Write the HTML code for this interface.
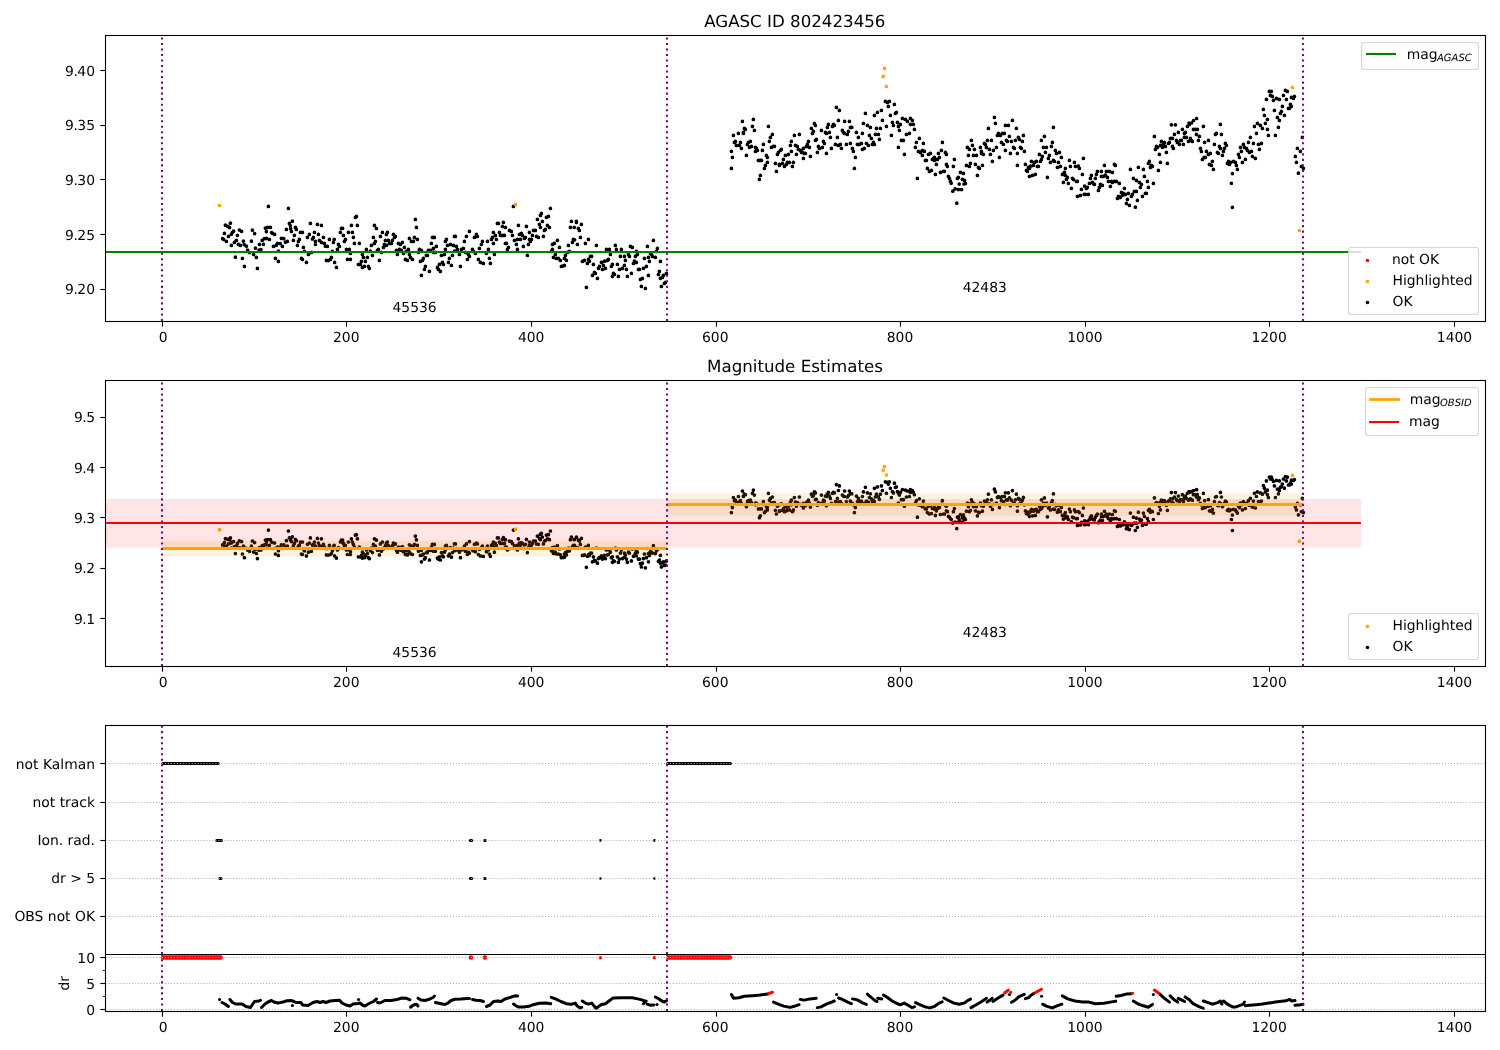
<!DOCTYPE html>
<html lang="en"><head><meta charset="utf-8"><title>AGASC ID 802423456</title>
<style>html,body{margin:0;padding:0;background:#fff}svg{display:block;will-change:transform}text{font-family:'DejaVu Sans','Liberation Sans',sans-serif;fill:#000;text-rendering:geometricPrecision}</style></head><body>
<svg width="1500" height="1050" viewBox="0 0 1500 1050">
<rect width="1500" height="1050" fill="#fff"/>
<defs>
<clipPath id="c1"><rect x="105.5" y="35.5" width="1380.0" height="286.0"/></clipPath>
<clipPath id="c2"><rect x="105.5" y="380.5" width="1380.0" height="286.0"/></clipPath>
<clipPath id="c3"><rect x="105.5" y="725.5" width="1380.0" height="286.0"/></clipPath>
<clipPath id="c3a"><rect x="105.5" y="725.5" width="1380.0" height="229.0"/></clipPath>
<clipPath id="c3b"><rect x="105.5" y="954.5" width="1380.0" height="57.0"/></clipPath>
</defs>
<g clip-path="url(#c1)">
<path d="M225.4 225.2h0M227.8 226.4h0M229.6 227.6h0M230.4 223.2h0M224.4 233.4h0M222.6 238.6h0M223.6 239.4h0M226.4 241.4h0M228.4 236.4h0M231.4 234.2h0M232.4 232.4h0M233.6 231.2h0M231.4 245.4h0M234.4 242.4h0M236.4 240.4h0M237.4 235.4h0M239.4 230h0M241.6 231.4h0M235.4 257.2h0M238.4 244.4h0M240.4 245.4h0M243.4 241.2h0M244.2 244.6h0M246.4 246.2h0M242.4 258.4h0M244.4 266.4h0M247.6 250h0M249.6 252.6h0M251.4 241.2h0M252.4 230.2h0M254.6 233.6h0M253.6 254.4h0M255.4 248.2h0M256.4 257.4h0M257.4 268.4h0M259 250.2h0M261 249.6h0M259.4 244.4h0M262.2 240.4h0M263.4 244.4h0M264.4 238.6h0M266.6 238.4h0M269.4 239.4h0M265.4 228.2h0M267.6 227.4h0M270.4 227.4h0M266.4 231.6h0M268.4 206.4h0M271.6 232.6h0M272.6 233.4h0M274.6 234.4h0M273.4 246.4h0M276.2 245.4h0M277.4 243.4h0M280.2 243.6h0M282.4 246.4h0M278.4 251.2h0M275.4 258.4h0M278.4 261.4h0M281.4 238.4h0M283.8 238.6h0M285.4 242.2h0M287.4 241.4h0M286.4 229.4h0M288.4 208.4h0M289.4 223.4h0M292.4 221.2h0M290.4 225.8h0M290.6 228.6h0M291.4 231.4h0M294.4 235.4h0M293.4 240.4h0M295.4 227.4h0M296.4 229.4h0M299.4 239.4h0M298.4 241.4h0M297.4 245.4h0M300.4 232.4h0M302.4 232.4h0M303.4 247.4h0M301.4 258.4h0M302.4 259.4h0M304.4 251.4h0M306.4 262.4h0M307.4 237.4h0M309.4 234.4h0M310.4 223.4h0M308.4 254.4h0M311.4 252.4h0M312.4 239h0M313.4 237.4h0M314.4 232.4h0M315.4 244.4h0M315.4 241.4h0M317.4 224.4h0M318.4 234.4h0M319.4 240.4h0M321.4 225.4h0M321.4 242.4h0M323.4 237.4h0M324.4 243.4h0M325.4 246.2h0M327.4 246.4h0M326.4 260.4h0M328.4 260.6h0M330.4 259.4h0M331.4 257.4h0M329.4 239.4h0M332.4 251.4h0M333.4 242.4h0M334.2 239.4h0M334.6 262.4h0M336.4 267.4h0M337.4 249.4h0M338.4 244.4h0M339.4 246.4h0M340.4 232.4h0M341.4 228.4h0M342.6 228.4h0M343.4 235.4h0M344.4 241.4h0M345.4 239.4h0M346.4 249.4h0M347.4 259.4h0M348.4 232.4h0M349.4 249.4h0M350.4 253.4h0M350.4 259.4h0M351.4 225.4h0M352.4 232.4h0M353.4 237.4h0M354.4 243.4h0M355.4 217.4h0M356.4 216.4h0M357.4 225.4h0M358.4 264.4h0M359.4 243.4h0M360.4 264.4h0M361.4 261.4h0M362.4 267.4h0M362.4 254.4h0M363.4 257.4h0M364.4 266.4h0M365.4 261.4h0M366.4 249.4h0M367.4 257.4h0M368.4 266.4h0M369.4 268.4h0M370.4 251.2h0M371.4 245.4h0M372.4 255.4h0M373.4 237.4h0M374.4 225.4h0M374.4 243.4h0M375.4 241.4h0M376.4 228.4h0M377.4 250.4h0M378.4 249.4h0M379.4 260.4h0M380.4 236.4h0M381.4 252.4h0M382.4 232.4h0M383.4 247.4h0M384.4 244.4h0M385.4 240.4h0M386.4 234.4h0M387.4 232.4h0M386.4 245.4h0M388.4 240.4h0M389.4 243.4h0M391.4 243.4h0M392.4 240.4h0M393.4 234.4h0M394.4 237.4h0M395.4 236.4h0M396.4 250.4h0M397.4 254.4h0M398.4 243.4h0M399.4 249.4h0M400.4 244.4h0M401.4 250.4h0M402.4 242.4h0M403.4 253.4h0M404.4 247.4h0M405.4 259.4h0M407.4 260.4h0M406.4 251.4h0M408.4 249.4h0M409.4 238.4h0M409.4 254.4h0M410.4 257.4h0M411.4 241.4h0M412.4 259.4h0M413.4 241.4h0M414.4 237.4h0M415.4 219.4h0M416.4 227.4h0M417.4 239.4h0M418.4 252.4h0M419.4 249.4h0M420.4 261.4h0M421.4 250.4h0M421.4 275.4h0M422.4 260.4h0M423.4 258.4h0M424.4 269.4h0M425.4 266.4h0M426.4 255.4h0M427.4 255.4h0M428.4 250.4h0M429.4 271.4h0M430.4 250.4h0M431.4 243.4h0M432.4 237.4h0M433.4 248.4h0M434.4 237.4h0M433.4 252.4h0M435.4 252.4h0M436.4 246.4h0M437.4 267.4h0M438.4 269.4h0M439.4 264.4h0M440.4 271.4h0M441.4 255.4h0M442.4 262.4h0M443.4 264.4h0M444.4 254.4h0M445.4 241.4h0M445.4 249.4h0M446.4 239.4h0M447.4 245.4h0M448.4 262.4h0M449.4 258.4h0M450.4 244.4h0M451.4 265.4h0M452.4 255.4h0M453.4 245.4h0M454.4 236.4h0M454.6 251.2h0M513.4 206.4h0M455.4 236.4h0M456.4 246.4h0M457.4 249.4h0M459.4 254.4h0M460.4 266.4h0M461.4 249.4h0M463.4 248.4h0M464.4 241.4h0M465.4 252.4h0M466.4 236.4h0M467.4 259.4h0M468.4 254.4h0M469.4 231.4h0M469.4 256.4h0M472.4 249.4h0M473.4 251.4h0M474.4 237.4h0M475.4 253.4h0M476.4 234.4h0M477.4 236.4h0M478.4 259.4h0M479.4 248.4h0M480.4 262.4h0M481.4 244.4h0M482.4 241.4h0M483.4 263.4h0M486.4 253.4h0M487.4 241.4h0M488.4 249.4h0M489.4 258.4h0M490.4 263.4h0M491.4 239.4h0M492.4 237.4h0M493.4 232.4h0M493.4 243.4h0M494.4 254.4h0M495.4 235.4h0M496.4 239.4h0M497.4 223.4h0M498.4 223.4h0M499.4 232.4h0M500.4 235.4h0M502.4 226.4h0M503.4 222.4h0M502.4 235.4h0M504.4 235.4h0M505.4 227.4h0M505.4 243.4h0M506.4 243.4h0M507.4 249.4h0M508.4 247.4h0M509.4 230.4h0M511.4 231.4h0M512.4 235.4h0M514.4 240.4h0M516.4 244.4h0M517.4 239.4h0M517.4 249.4h0M518.4 225.4h0M519.4 234.4h0M520.4 239.4h0M521.4 233.4h0M522.4 235.4h0M523.4 246.4h0M524.4 238.4h0M525.4 237.4h0M526.4 226.4h0M527.4 255.4h0M528.4 244.4h0M529.4 232.4h0M529.4 239.4h0M530.4 241.4h0M531.4 239.4h0M532.4 235.4h0M533.4 230.4h0M535.4 230.4h0M536.4 236.4h0M537.4 219.4h0M538.4 237.4h0M539.4 224.4h0M540.4 227.4h0M540.4 215.4h0M541.4 213.4h0M542.4 221.4h0M543.4 236.4h0M544.4 230.4h0M545.4 229.4h0M546.4 217.4h0M547.4 225.4h0M548.4 216.4h0M549.4 227.4h0M550.4 208.4h0M551.4 251.4h0M552.4 249.4h0M552.4 244.4h0M553.4 257.4h0M554.4 243.4h0M555.4 254.4h0M556.4 258.4h0M557.4 240.4h0M558.4 258.4h0M559.4 247.4h0M560.4 260.4h0M561.4 266.4h0M563.4 265.8h0M564.4 265.4h0M564.4 258.4h0M565.4 255.4h0M566.4 260.4h0M567.4 252.4h0M568.4 245.4h0M569.4 251.4h0M570.4 227.4h0M571.4 221.4h0M572.4 242.4h0M573.4 239.4h0M574.2 227.4h0M574.6 239.8h0M576.4 221.4h0M576.4 222.4h0M578.4 228.4h0M579.4 230.4h0M581.4 224.4h0M577.4 244.4h0M580.4 237.4h0M582.4 261.4h0M584.4 260.4h0M585.4 243.4h0M586.4 287.4h0M587.4 263.4h0M588.4 239.4h0M588.4 259.4h0M589.4 261.2h0M590.4 256.4h0M591.6 256.4h0M592.4 275.4h0M593.4 264.4h0M594.4 272.4h0M595.4 273.4h0M596.4 245.4h0M597.4 278.4h0M598.4 268.4h0M599.4 266.4h0M601.4 262.4h0M602.4 269.4h0M603.4 265.4h0M604.4 261.2h0M605.4 268.4h0M606.4 249.4h0M607.4 260.4h0M608.4 259.4h0M609.4 249.4h0M610.4 254.4h0M611.4 266.4h0M612.4 264.4h0M612.4 276.4h0M613.4 273.4h0M614.4 274.4h0M615.4 245.4h0M616.4 249.4h0M617.4 264.4h0M618.4 276.4h0M619.4 269.4h0M620.4 256.4h0M621.4 249.4h0M622.4 268.4h0M624.4 256.4h0M624.4 265.4h0M625.4 260.4h0M626.4 269.4h0M627.4 276.4h0M628.4 254.4h0M629.4 256.4h0M630.4 246.4h0M631.4 273.4h0M632.4 247.4h0M633.4 263.4h0M634.4 261.2h0M635.4 256.4h0M636.4 262.4h0M636.4 251.4h0M637.4 254.4h0M638.4 269.4h0M639.4 269.4h0M640.4 279.4h0M641.4 286.4h0M642.4 278.4h0M643.4 268.4h0M644.4 258.4h0M645.4 288.4h0M646.4 266.4h0M647.4 246.4h0M648.4 257.4h0M648.4 275.4h0M649.4 261.4h0M650.4 253.4h0M651.4 254.4h0M652.4 256.4h0M653.4 240.4h0M655.4 257.4h0M656.4 251.4h0M657.4 248.4h0M658.4 274.4h0M659.4 271.4h0M660.4 261.4h0M660.4 278.4h0M661.4 286.4h0M662.4 277.4h0M663.4 275.4h0M664.4 283.4h0M665.4 282.4h0M666.4 273.4h0M731.4 151.4h0M732.4 157.4h0M731.4 168.4h0M733.4 135.4h0M734.4 142.4h0M735.4 141.4h0M736.4 145.4h0M738.4 133.4h0M739.4 145.4h0M740.4 142.4h0M741.4 148.4h0M742.4 121.4h0M743.4 132.4h0M743.4 133.4h0M744.4 128.4h0M745.4 129.4h0M746.4 155.4h0M747.4 144.4h0M748.4 142.4h0M749.4 147.4h0M750.4 141.4h0M751.4 146.4h0M752.4 126.4h0M753.4 119.4h0M754.4 130.4h0M755.4 147.4h0M755.4 151.4h0M756.4 148.4h0M757.4 150.4h0M758.4 160.4h0M760.4 160.4h0M761.4 160.4h0M759.4 179.4h0M760.4 175.4h0M762.4 150.4h0M763.4 144.4h0M764.4 168.4h0M765.4 165.4h0M766.4 155.4h0M767.4 157.4h0M767.4 162.4h0M768.4 126.4h0M769.4 141.4h0M770.4 137.4h0M771.4 147.4h0M772.4 134.4h0M773.4 146.4h0M774.4 146.4h0M775.4 163.4h0M776.4 171.4h0M777.4 154.4h0M778.4 152.4h0M779.4 164.4h0M779.4 165.4h0M780.4 150.4h0M781.4 149.4h0M782.4 163.4h0M783.4 159.4h0M784.4 166.4h0M785.4 155.4h0M786.4 164.4h0M787.4 162.4h0M788.4 154.4h0M789.4 162.4h0M790.4 145.4h0M791.4 141.4h0M791.4 151.4h0M792.4 166.4h0M793.4 162.4h0M794.4 135.4h0M795.4 145.4h0M796.4 154.4h0M797.4 146.4h0M798.4 149.4h0M799.4 134.4h0M800.4 150.4h0M801.4 152.4h0M802.4 152.4h0M803.4 158.4h0M803.4 148.4h0M804.4 153.4h0M805.4 153.4h0M806.4 146.4h0M807.4 144.4h0M808.4 141.4h0M809.4 147.4h0M810.4 156.4h0M811.4 128.4h0M812.4 133.4h0M813.4 131.4h0M814.4 123.4h0M815.4 125.4h0M815.4 140.4h0M816.4 139.4h0M817.4 152.4h0M818.4 146.4h0M819.4 148.4h0M821.4 130.4h0M822.4 147.4h0M823.4 141.4h0M824.4 143.4h0M825.4 132.4h0M826.4 133.4h0M826.4 153.4h0M827.4 127.4h0M828.4 124.4h0M829.4 132.4h0M830.4 137.4h0M831.4 148.4h0M832.4 126.4h0M833.4 124.4h0M834.4 125.4h0M835.4 144.4h0M836.4 107.4h0M837.4 137.4h0M838.4 120.4h0M838.4 145.4h0M839.4 110.4h0M840.4 144.4h0M841.4 148.4h0M842.4 130.4h0M843.4 132.4h0M844.4 133.4h0M844.6 121.4h0M846.4 144.4h0M847.4 134.4h0M848.4 131.4h0M849.4 121.4h0M850.4 127.4h0M850.4 143.4h0M851.8 127.4h0M852.4 148.4h0M853.4 151.4h0M854.4 168.4h0M855.4 157.4h0M856.4 132.4h0M857.4 144.4h0M858.4 137.4h0M859.4 144.4h0M861.4 143.4h0M862.4 133.4h0M862.4 149.4h0M863.4 123.4h0M864.4 148.4h0M865.4 113.4h0M866.4 143.4h0M867.4 125.4h0M868.4 145.4h0M869.4 135.4h0M870.4 127.4h0M871.4 138.4h0M872.4 144.4h0M873.4 142.4h0M874.4 115.4h0M874.4 144.4h0M875.4 134.4h0M876.4 128.4h0M877.4 112.4h0M878.4 134.4h0M879.4 139.4h0M880.4 128.4h0M881.4 110.4h0M882.4 120.4h0M885.4 101.4h0M886.4 126.4h0M887.4 102.4h0M888.4 106.4h0M889.4 101.4h0M890.4 115.4h0M891.4 135.4h0M892.4 122.4h0M893.4 125.4h0M894.4 104.4h0M895.4 113.4h0M896.4 112.4h0M897.4 122.4h0M898.4 126.4h0M898.4 147.4h0M899.4 130.4h0M900.4 124.4h0M901.4 140.4h0M902.4 118.4h0M903.4 140.4h0M904.4 154.4h0M905.4 119.4h0M906.4 134.4h0M907.4 121.4h0M909.4 133.4h0M910.4 118.4h0M910.4 124.4h0M912.4 120.4h0M913.4 124.4h0M914.4 129.4h0M915.4 147.4h0M916.4 142.4h0M917.4 178.4h0M918.4 151.4h0M919.4 138.4h0M920.4 152.4h0M922.4 150.4h0M922.4 155.4h0M923.4 143.4h0M924.4 151.4h0M925.4 160.4h0M926.4 160.4h0M927.4 168.4h0M928.4 154.4h0M929.4 171.4h0M930.4 153.4h0M931.4 170.4h0M932.4 159.4h0M933.4 158.4h0M934.4 157.4h0M934.4 160.4h0M935.4 174.4h0M936.4 164.4h0M937.4 159.4h0M938.4 153.4h0M939.4 157.4h0M940.4 172.4h0M941.4 150.4h0M942.4 142.4h0M943.4 171.4h0M944.4 171.4h0M945.4 152.4h0M946.4 154.4h0M946.4 164.4h0M947.4 166.4h0M948.4 176.4h0M949.4 178.4h0M950.4 181.2h0M953.4 166.4h0M954.4 159.4h0M957.4 178.4h0M958.4 177.4h0M960.4 172.4h0M962.4 179.4h0M963.4 173.4h0M964.6 180.4h0M965.4 183.4h0M966.4 165.4h0M967.4 147.4h0M968.4 155.4h0M969.4 149.4h0M969.4 166.4h0M970.4 163.4h0M971.4 140.4h0M972.4 145.4h0M973.4 155.4h0M974.4 149.4h0M975.4 164.4h0M976.4 155.4h0M977.4 175.4h0M978.4 167.4h0M979.4 168.4h0M980.4 147.4h0M981.4 151.4h0M981.4 153.4h0M982.4 165.4h0M983.4 154.4h0M984.4 143.4h0M985.4 144.4h0M986.4 147.4h0M987.4 140.4h0M988.4 128.4h0M989.4 149.4h0M990.4 154.4h0M991.4 140.4h0M992.4 161.4h0M993.4 150.4h0M994.4 117.4h0M995.4 123.4h0M996.4 147.4h0M997.4 135.4h0M998.4 133.4h0M999.4 157.4h0M1000.4 135.4h0M1001.4 142.4h0M1002.4 133.4h0M1003.4 144.4h0M1004.4 133.4h0M1005.4 125.4h0M1005.4 150.4h0M1006.4 140.4h0M1007.4 141.4h0M1008.4 125.4h0M1009.4 136.4h0M1010.4 153.4h0M1011.4 141.4h0M1012.4 120.4h0M1013.4 147.4h0M1014.4 148.4h0M1015.4 140.4h0M1016.4 128.4h0M1017.4 153.4h0M1017.4 165.4h0M1018.4 137.4h0M1019.4 139.4h0M1020.4 147.4h0M1021.4 148.4h0M1022.4 141.4h0M1023.4 135.4h0M1024.4 151.4h0M1025.4 164.4h0M1026.4 170.4h0M1027.4 171.4h0M1028.4 167.4h0M1029.4 176.4h0M1029.4 168.4h0M1030.4 166.2h0M1031.4 161.4h0M1032.4 175.4h0M1033.4 165.4h0M1034.4 162.4h0M1035.4 174.4h0M1036.4 161.4h0M1037.4 166.4h0M1038.4 166.4h0M1039.4 154.4h0M1040.4 161.4h0M1041.4 159.4h0M1041.4 140.4h0M1042.4 156.4h0M1043.4 147.4h0M1044.4 136.4h0M1045.4 152.4h0M1046.4 147.4h0M1047.4 177.4h0M1048.4 158.4h0M1049.4 155.4h0M1050.4 162.4h0M1051.4 146.4h0M1052.4 142.4h0M1053.4 127.4h0M1053.4 160.4h0M1054.4 161.4h0M1055.4 150.4h0M1056.4 153.4h0M1057.4 167.4h0M1058.4 162.4h0M1059.4 152.4h0M1060.4 166.4h0M1061.4 157.4h0M1062.4 174.4h0M1063.4 182.4h0M1064.4 172.4h0M1065.4 168.4h0M1065.4 175.4h0M1066.4 179.4h0M1067.4 177.4h0M1068.4 183.4h0M1069.4 160.4h0M1070.4 166.4h0M1071.4 188.4h0M1072.4 178.4h0M1073.4 179.4h0M1074.4 162.4h0M1075.4 166.4h0M1076.4 181.4h0M1077.4 181.4h0M1077.4 196.4h0M1078.4 166.2h0M1079.4 168.4h0M1080.4 195.4h0M1081.4 189.4h0M1082.4 174.4h0M1083.4 158.4h0M1084.2 194.4h0M1084.6 186.2h0M1085.4 194.4h0M1086.4 188.4h0M1087.4 187.4h0M1088.4 194.4h0M1089.4 183.4h0M1090.4 178.4h0M1091.4 175.4h0M1092.4 182.4h0M1093.4 183.4h0M1094.4 184.4h0M1095.4 178.4h0M1096.4 174.4h0M1097.4 171.4h0M1098.4 190.4h0M1099.4 187.4h0M1100.4 184.4h0M1101.4 171.4h0M1101.4 176.4h0M1102.4 185.4h0M1103.4 176.4h0M1104.4 165.4h0M1105.4 175.2h0M1106.4 171.4h0M1107.4 177.4h0M1108.4 181.4h0M1109.4 171.4h0M1110.4 186.4h0M1111.4 181.4h0M1112.4 172.4h0M1112.4 182.4h0M1114.4 164.4h0M1115.4 165.4h0M1114.4 181.4h0M1116.4 181.4h0M1117.4 198.4h0M1118.4 196.4h0M1119.4 183.4h0M1120.4 197.4h0M1121.4 192.4h0M1122.4 195.4h0M1123.4 193.4h0M1124.4 188.4h0M1125.4 194.4h0M1126.4 203.4h0M1127.4 199.4h0M1128.4 193.4h0M1129.4 205.4h0M1130.4 169.4h0M1131.4 196.4h0M1132.4 194.4h0M1133.4 178.4h0M1134.4 191.4h0M1135.4 207.2h0M1136.4 191.4h0M1136.4 180.4h0M1137.4 200.4h0M1138.4 167.4h0M1139.4 182.4h0M1140.4 187.4h0M1141.4 184.4h0M1142.4 196.4h0M1143.4 169.4h0M1144.4 176.4h0M1145.4 193.4h0M1146.4 193.4h0M1147.4 181.4h0M1148.4 163.4h0M1148.4 187.4h0M1149.4 161.4h0M1150.4 167.4h0M1152.4 166.4h0M1151.4 165.4h0M1153.4 183.4h0M1154.4 136.4h0M1155.4 149.4h0M1156.4 146.4h0M1157.4 147.4h0M1158.4 170.4h0M1159.4 154.4h0M1160.4 145.4h0M1160.4 162.4h0M1161.4 141.4h0M1162.4 147.4h0M1163.4 144.4h0M1164.4 142.4h0M1165.4 146.4h0M1166.4 152.4h0M1167.4 163.4h0M1168.4 143.4h0M1169.4 142.4h0M1170.4 138.4h0M1171.4 124.8h0M1172.4 138.4h0M1172.4 146.4h0M1173.4 148.4h0M1174.4 134.4h0M1175.4 124.8h0M1176.4 140.4h0M1177.4 142.4h0M1178.4 132.4h0M1179.4 144.4h0M1180.4 140.4h0M1181.4 140.4h0M1182.4 129.4h0M1183.4 144.4h0M1184.4 133.4h0M1185.4 132.4h0M1184.4 137.4h0M1186.4 137.4h0M1187.4 126.4h0M1188.4 141.4h0M1189.4 124.4h0M1190.4 138.4h0M1191.4 140.4h0M1192.4 141.4h0M1193.4 129.4h0M1195.4 129.4h0M1197.4 129.4h0M1196.4 134.4h0M1198.4 140.4h0M1199.4 136.4h0M1200.4 148.4h0M1201.4 151.4h0M1202.4 159.4h0M1203.4 126.4h0M1204.2 157.4h0M1204.6 142.4h0M1206.4 151.4h0M1205.4 157.4h0M1208.4 140.4h0M1208.4 154.4h0M1209.4 164.4h0M1210.4 153.4h0M1211.4 165.4h0M1212.4 161.4h0M1213.4 169.4h0M1214.4 144.4h0M1215.4 134.4h0M1216.4 133.4h0M1217.4 152.4h0M1218.4 153.4h0M1219.4 146.4h0M1220.4 124.4h0M1220.4 148.4h0M1221.4 134.4h0M1222.4 155.4h0M1223.4 151.4h0M1224.4 148.4h0M1225.4 143.4h0M1226.4 145.4h0M1227.4 163.4h0M1228.4 161.4h0M1229.4 164.4h0M1230.4 162.4h0M1232.4 173.6h0M1233.4 161.4h0M1235.4 162.4h0M1236.4 165.4h0M1237.4 169.4h0M1238.4 154.4h0M1239.4 157.4h0M1240.4 147.4h0M1241.4 151.4h0M1242.4 162.4h0M1243.4 144.4h0M1244.4 147.4h0M1245.4 159.4h0M1246.4 148.4h0M1247.4 150.4h0M1248.4 142.4h0M1249.4 152.4h0M1250.4 137.4h0M1251.4 151.4h0M1252.4 156.4h0M1253.4 143.4h0M1254.4 126.4h0M1255.4 158.4h0M1256.4 133.4h0M1257.4 123.4h0M1258.4 144.4h0M1259.4 149.4h0M1260.4 125.4h0M1261.4 143.4h0M1262.4 128.4h0M1265.4 123.4h0M1267.4 119.4h0M1267.4 129.4h0M1268.4 135.4h0M1275.4 135.4h0M1277.4 117.4h0M1278.4 127.4h0M1279.4 120.4h0M1295.4 156.4h0M1296.4 162.4h0M1297.4 148.4h0M1298.4 173.2h0M1300.4 151.4h0M1301.4 166.4h0M1302.4 137.4h0M1303.4 168.4h0M1269.4 91.4h0M1271.4 91.4h0M1270.4 95.4h0M1272.4 96.4h0M1266.4 99.4h0M1273.4 100.4h0M1276.4 98.4h0M1279.4 99.4h0M1283.4 95.4h0M1285.4 90.4h0M1287.4 91.4h0M1286.4 99.4h0M1291.4 97.4h0M1293.4 98.4h0M1294.4 96.4h0M1290.4 104.4h0M1291.4 106.4h0M1288.4 108.4h0M1289.4 108.4h0M1282.4 106.4h0M1263.4 109.4h0M1274.4 110.4h0M1281.4 111.4h0M1280.4 113.4h0M1264.4 115.4h0M1284.4 115.4h0M956.8 203.2h0M952.8 191.2h0M955.2 188.8h0M958.4 189.6h0M961.6 189.6h0M951.2 183.2h0M959.2 184h0M964 184h0M1196.6 118.5h0M1193.5 120.5h0M1189 123h0M1191.5 123h0M1231.4 183.3h0M1232.4 207.3h0" stroke="#000" stroke-width="3.7" stroke-linecap="round" fill="none"/>
<path d="M219.5 205.5h0M515.6 204.4h0M884.5 68.4h0M883.2 76.4h0M886.4 86.5h0M1292.4 87.5h0M1299.4 230.5h0" stroke="#ffa500" stroke-width="3.7" stroke-linecap="round" fill="none"/>
<line x1="162" y1="321" x2="162" y2="35.5" stroke="#800080" stroke-width="2.08" stroke-dasharray="2.08 3.44" stroke-dashoffset="0"/>
<line x1="667" y1="321" x2="667" y2="35.5" stroke="#800080" stroke-width="2.08" stroke-dasharray="2.08 3.44" stroke-dashoffset="0"/>
<line x1="1303" y1="321" x2="1303" y2="35.5" stroke="#800080" stroke-width="2.08" stroke-dasharray="2.08 3.44" stroke-dashoffset="0"/>
<line x1="105.5" y1="252" x2="1361" y2="252" stroke="#008000" stroke-width="2.08"/>
</g>
<text x="414.6" y="312" font-size="13.89" text-anchor="middle">45536</text>
<text x="984.8" y="292" font-size="13.89" text-anchor="middle">42483</text>
<rect x="105.5" y="35.5" width="1380.0" height="286.0" fill="none" stroke="#000" stroke-width="1.1"/>
<line x1="162.5" y1="321.5" x2="162.5" y2="326.7" stroke="#000" stroke-width="1.1"/>
<text x="163.2" y="341.7" font-size="13.89" text-anchor="middle">0</text>
<line x1="346.5" y1="321.5" x2="346.5" y2="326.7" stroke="#000" stroke-width="1.1"/>
<text x="346.3" y="341.7" font-size="13.89" text-anchor="middle">200</text>
<line x1="531.5" y1="321.5" x2="531.5" y2="326.7" stroke="#000" stroke-width="1.1"/>
<text x="531.2" y="341.7" font-size="13.89" text-anchor="middle">400</text>
<line x1="716.5" y1="321.5" x2="716.5" y2="326.7" stroke="#000" stroke-width="1.1"/>
<text x="715.3" y="341.7" font-size="13.89" text-anchor="middle">600</text>
<line x1="900.5" y1="321.5" x2="900.5" y2="326.7" stroke="#000" stroke-width="1.1"/>
<text x="900" y="341.7" font-size="13.89" text-anchor="middle">800</text>
<line x1="1085.5" y1="321.5" x2="1085.5" y2="326.7" stroke="#000" stroke-width="1.1"/>
<text x="1084.9" y="341.7" font-size="13.89" text-anchor="middle">1000</text>
<line x1="1269.5" y1="321.5" x2="1269.5" y2="326.7" stroke="#000" stroke-width="1.1"/>
<text x="1269.1" y="341.7" font-size="13.89" text-anchor="middle">1200</text>
<line x1="1454.5" y1="321.5" x2="1454.5" y2="326.7" stroke="#000" stroke-width="1.1"/>
<text x="1454.5" y="341.7" font-size="13.89" text-anchor="middle">1400</text>
<line x1="100.3" y1="70.5" x2="105.5" y2="70.5" stroke="#000" stroke-width="1.1"/>
<text x="95" y="75.5" font-size="13.89" text-anchor="end">9<tspan dx="-0.5">.</tspan><tspan dx="-0.5">40</tspan></text>
<line x1="100.3" y1="125.5" x2="105.5" y2="125.5" stroke="#000" stroke-width="1.1"/>
<text x="95" y="130.2" font-size="13.89" text-anchor="end">9<tspan dx="-0.5">.</tspan><tspan dx="-0.5">35</tspan></text>
<line x1="100.3" y1="179.5" x2="105.5" y2="179.5" stroke="#000" stroke-width="1.1"/>
<text x="95" y="184.9" font-size="13.89" text-anchor="end">9<tspan dx="-0.5">.</tspan><tspan dx="-0.5">30</tspan></text>
<line x1="100.3" y1="234.5" x2="105.5" y2="234.5" stroke="#000" stroke-width="1.1"/>
<text x="95" y="239.6" font-size="13.89" text-anchor="end">9<tspan dx="-0.5">.</tspan><tspan dx="-0.5">25</tspan></text>
<line x1="100.3" y1="289.5" x2="105.5" y2="289.5" stroke="#000" stroke-width="1.1"/>
<text x="95" y="294.3" font-size="13.89" text-anchor="end">9<tspan dx="-0.5">.</tspan><tspan dx="-0.5">20</tspan></text>
<text x="794.8" y="26.8" font-size="16.67" text-anchor="middle">AGASC ID 802423456</text>
<rect x="1361.5" y="42.5" width="117.0" height="27.0" rx="2.8" fill="#fff" fill-opacity="0.8" stroke="#ccc" stroke-opacity="0.8" stroke-width="1.1"/>
<line x1="1366" y1="54" x2="1396" y2="54" stroke="#008000" stroke-width="2.08"/>
<text x="1406.8" y="59" font-size="13.89">mag<tspan font-size="10" font-style="italic" dx="-0.6" dy="2.0">AGASC</tspan></text>
<rect x="1348.5" y="247.5" width="130.0" height="67.0" rx="2.8" fill="#fff" fill-opacity="0.8" stroke="#ccc" stroke-opacity="0.8" stroke-width="1.1"/>
<path d="M1367.5 260.5h0" stroke="#f00" stroke-width="3.6" stroke-linecap="round" fill="none"/>
<path d="M1367.5 281.5h0" stroke="#ffa500" stroke-width="3.6" stroke-linecap="round" fill="none"/>
<path d="M1367.5 302.5h0" stroke="#000" stroke-width="3.6" stroke-linecap="round" fill="none"/>
<text x="1391.9" y="264" font-size="13.89" text-anchor="start">not OK</text>
<text x="1392.5" y="284.8" font-size="13.89" text-anchor="start">Highlighted</text>
<text x="1392.5" y="305.6" font-size="13.89" text-anchor="start">OK</text>
<g clip-path="url(#c2)">
<path d="M225.4 538.7h0M227.8 539.3h0M229.6 539.8h0M230.4 537.8h0M224.4 542.5h0M222.6 544.9h0M223.6 545.3h0M226.4 546.2h0M228.4 543.9h0M231.4 542.9h0M232.4 542.1h0M233.6 541.5h0M231.4 548h0M234.4 546.6h0M236.4 545.7h0M237.4 543.4h0M239.4 540.9h0M241.6 541.6h0M235.4 553.5h0M238.4 547.6h0M240.4 548h0M243.4 546.1h0M244.2 547.6h0M246.4 548.4h0M242.4 554h0M244.4 557.7h0M247.6 550.1h0M249.6 551.3h0M251.4 546.1h0M252.4 541h0M254.6 542.6h0M253.6 552.1h0M255.4 549.3h0M256.4 553.5h0M257.4 558.6h0M259 550.2h0M261 550h0M259.4 547.6h0M262.2 545.7h0M263.4 547.6h0M264.4 544.9h0M266.6 544.8h0M269.4 545.3h0M265.4 540.1h0M267.6 539.7h0M270.4 539.7h0M266.4 541.7h0M268.4 530.1h0M271.6 542.1h0M272.6 542.5h0M274.6 543h0M273.4 548.5h0M276.2 548h0M277.4 547.1h0M280.2 547.2h0M282.4 548.5h0M278.4 550.7h0M275.4 554h0M278.4 555.4h0M281.4 544.8h0M283.8 544.9h0M285.4 546.5h0M287.4 546.2h0M286.4 540.7h0M288.4 531h0M289.4 537.9h0M292.4 536.9h0M290.4 539h0M290.6 540.3h0M291.4 541.6h0M294.4 543.4h0M293.4 545.7h0M295.4 539.7h0M296.4 540.7h0M299.4 545.3h0M298.4 546.2h0M297.4 548h0M300.4 542.1h0M302.4 542.1h0M303.4 548.9h0M301.4 554h0M302.4 554.5h0M304.4 550.8h0M306.4 555.9h0M307.4 544.3h0M309.4 543h0M310.4 537.9h0M308.4 552.2h0M311.4 551.3h0M312.4 545.1h0M313.4 544.3h0M314.4 542.1h0M315.4 547.6h0M315.4 546.2h0M317.4 538.4h0M318.4 543h0M319.4 545.7h0M321.4 538.8h0M321.4 546.7h0M323.4 544.3h0M324.4 547.1h0M325.4 548.4h0M327.4 548.5h0M326.4 554.9h0M328.4 555h0M330.4 554.5h0M331.4 553.5h0M329.4 545.3h0M332.4 550.8h0M333.4 546.7h0M334.2 545.3h0M334.6 555.9h0M336.4 558.1h0M337.4 549.9h0M338.4 547.6h0M339.4 548.5h0M340.4 542h0M341.4 540.2h0M342.6 540.2h0M343.4 543.4h0M344.4 546.2h0M345.4 545.3h0M346.4 549.9h0M347.4 554.5h0M348.4 542h0M349.4 549.9h0M350.4 551.7h0M350.4 554.5h0M351.4 538.8h0M352.4 542h0M353.4 544.4h0M354.4 547.1h0M355.4 535.2h0M356.4 534.7h0M357.4 538.8h0M358.4 556.8h0M359.4 547.1h0M360.4 556.8h0M361.4 555.4h0M362.4 558.1h0M362.4 552.2h0M363.4 553.6h0M364.4 557.7h0M365.4 555.4h0M366.4 549.9h0M367.4 553.6h0M368.4 557.7h0M369.4 558.6h0M370.4 550.7h0M371.4 548h0M372.4 552.6h0M373.4 544.4h0M374.4 538.8h0M374.4 547.1h0M375.4 546.2h0M376.4 540.2h0M377.4 550.3h0M378.4 549.9h0M379.4 554.9h0M380.4 543.9h0M381.4 551.2h0M382.4 542h0M383.4 549h0M384.4 547.6h0M385.4 545.7h0M386.4 543h0M387.4 542h0M386.4 548h0M388.4 545.7h0M389.4 547.1h0M391.4 547.1h0M392.4 545.7h0M393.4 543h0M394.4 544.4h0M395.4 543.9h0M396.4 550.3h0M397.4 552.2h0M398.4 547.1h0M399.4 549.9h0M400.4 547.6h0M401.4 550.3h0M402.4 546.6h0M403.4 551.7h0M404.4 549h0M405.4 554.5h0M407.4 554.9h0M406.4 550.8h0M408.4 549.9h0M409.4 544.8h0M409.4 552.2h0M410.4 553.6h0M411.4 546.2h0M412.4 554.5h0M413.4 546.2h0M414.4 544.4h0M415.4 536.1h0M416.4 539.8h0M417.4 545.3h0M418.4 551.2h0M419.4 549.9h0M420.4 555.4h0M421.4 550.3h0M421.4 561.8h0M422.4 554.9h0M423.4 554h0M424.4 559.1h0M425.4 557.7h0M426.4 552.6h0M427.4 552.6h0M428.4 550.3h0M429.4 560h0M430.4 550.3h0M431.4 547.1h0M432.4 544.4h0M433.4 549.4h0M434.4 544.4h0M433.4 551.2h0M435.4 551.2h0M436.4 548.5h0M437.4 558.1h0M438.4 559.1h0M439.4 556.8h0M440.4 560h0M441.4 552.6h0M442.4 555.8h0M443.4 556.8h0M444.4 552.2h0M445.4 546.2h0M445.4 549.9h0M446.4 545.3h0M447.4 548h0M448.4 555.8h0M449.4 554h0M450.4 547.6h0M451.4 557.2h0M452.4 552.6h0M453.4 548h0M454.4 543.9h0M454.6 550.7h0M513.4 530.1h0M455.4 543.9h0M456.4 548.5h0M457.4 549.9h0M459.4 552.2h0M460.4 557.7h0M461.4 549.9h0M463.4 549.4h0M464.4 546.2h0M465.4 551.3h0M466.4 543.9h0M467.4 554.5h0M468.4 552.2h0M469.4 541.6h0M469.4 553.1h0M472.4 549.9h0M473.4 550.8h0M474.4 544.3h0M475.4 551.7h0M476.4 543h0M477.4 543.9h0M478.4 554.5h0M479.4 549.4h0M480.4 555.9h0M481.4 547.6h0M482.4 546.2h0M483.4 556.3h0M486.4 551.7h0M487.4 546.2h0M488.4 549.9h0M489.4 554h0M490.4 556.3h0M491.4 545.3h0M492.4 544.3h0M493.4 542.1h0M493.4 547.1h0M494.4 552.2h0M495.4 543.4h0M496.4 545.3h0M497.4 537.9h0M498.4 537.9h0M499.4 542.1h0M500.4 543.4h0M502.4 539.3h0M503.4 537.5h0M502.4 543.4h0M504.4 543.4h0M505.4 539.7h0M505.4 547.1h0M506.4 547.1h0M507.4 549.9h0M508.4 548.9h0M509.4 541.1h0M511.4 541.6h0M512.4 543.4h0M514.4 545.7h0M516.4 547.6h0M517.4 545.3h0M517.4 549.9h0M518.4 538.8h0M519.4 543h0M520.4 545.3h0M521.4 542.5h0M522.4 543.4h0M523.4 548.5h0M524.4 544.8h0M525.4 544.3h0M526.4 539.3h0M527.4 552.6h0M528.4 547.6h0M529.4 542.1h0M529.4 545.3h0M530.4 546.2h0M531.4 545.3h0M532.4 543.4h0M533.4 541.1h0M535.4 541.1h0M536.4 543.9h0M537.4 536.1h0M538.4 544.3h0M539.4 538.4h0M540.4 539.7h0M540.4 534.2h0M541.4 533.3h0M542.4 537h0M543.4 543.9h0M544.4 541.1h0M545.4 540.7h0M546.4 535.1h0M547.4 538.8h0M548.4 534.7h0M549.4 539.7h0M550.4 531h0M551.4 550.8h0M552.4 549.9h0M552.4 547.6h0M553.4 553.5h0M554.4 547.1h0M555.4 552.2h0M556.4 554h0M557.4 545.7h0M558.4 554h0M559.4 548.9h0M560.4 554.9h0M561.4 557.7h0M563.4 557.4h0M564.4 557.2h0M564.4 554h0M565.4 552.6h0M566.4 554.9h0M567.4 551.3h0M568.4 548h0M569.4 550.8h0M570.4 539.7h0M571.4 537h0M572.4 546.7h0M573.4 545.3h0M574.2 539.7h0M574.6 545.4h0M576.4 537h0M576.4 537.4h0M578.4 540.2h0M579.4 541.1h0M581.4 538.4h0M577.4 547.6h0M580.4 544.4h0M582.4 555.4h0M584.4 554.9h0M585.4 547.1h0M586.4 567.3h0M587.4 556.3h0M588.4 545.3h0M588.4 554.5h0M589.4 555.3h0M590.4 553.1h0M591.6 553.1h0M592.4 561.8h0M593.4 556.8h0M594.4 560.4h0M595.4 560.9h0M596.4 548h0M597.4 563.2h0M598.4 558.6h0M599.4 557.7h0M601.4 555.8h0M602.4 559.1h0M603.4 557.2h0M604.4 555.3h0M605.4 558.6h0M606.4 549.9h0M607.4 554.9h0M608.4 554.5h0M609.4 549.9h0M610.4 552.2h0M611.4 557.7h0M612.4 556.8h0M612.4 562.3h0M613.4 560.9h0M614.4 561.3h0M615.4 548h0M616.4 549.9h0M617.4 556.8h0M618.4 562.3h0M619.4 559.1h0M620.4 553.1h0M621.4 549.9h0M622.4 558.6h0M624.4 553.1h0M624.4 557.2h0M625.4 554.9h0M626.4 559.1h0M627.4 562.3h0M628.4 552.2h0M629.4 553.1h0M630.4 548.5h0M631.4 560.9h0M632.4 549h0M633.4 556.3h0M634.4 555.3h0M635.4 553.1h0M636.4 555.8h0M636.4 550.8h0M637.4 552.2h0M638.4 559.1h0M639.4 559.1h0M640.4 563.7h0M641.4 566.9h0M642.4 563.2h0M643.4 558.6h0M644.4 554h0M645.4 567.8h0M646.4 557.7h0M647.4 548.5h0M648.4 553.6h0M648.4 561.8h0M649.4 555.4h0M650.4 551.7h0M651.4 552.2h0M652.4 553.1h0M653.4 545.7h0M655.4 553.6h0M656.4 550.8h0M657.4 549.4h0M658.4 561.3h0M659.4 560h0M660.4 555.4h0M660.4 563.2h0M661.4 566.9h0M662.4 562.7h0M663.4 561.8h0M664.4 565.5h0M665.4 565h0M666.4 560.9h0M731.4 504.8h0M732.4 507.6h0M731.4 512.6h0M733.4 497.5h0M734.4 500.7h0M735.4 500.2h0M736.4 502.1h0M738.4 496.5h0M739.4 502.1h0M740.4 500.7h0M741.4 503.4h0M742.4 491h0M743.4 496.1h0M743.4 496.5h0M744.4 494.2h0M745.4 494.7h0M746.4 506.7h0M747.4 501.6h0M748.4 500.7h0M749.4 503h0M750.4 500.2h0M751.4 502.5h0M752.4 493.3h0M753.4 490.1h0M754.4 495.1h0M755.4 503h0M755.4 504.8h0M756.4 503.4h0M757.4 504.3h0M758.4 508.9h0M760.4 508.9h0M761.4 508.9h0M759.4 517.7h0M760.4 515.8h0M762.4 504.3h0M763.4 501.6h0M764.4 512.6h0M765.4 511.3h0M766.4 506.7h0M767.4 507.6h0M767.4 509.9h0M768.4 493.3h0M769.4 500.2h0M770.4 498.4h0M771.4 503h0M772.4 497h0M773.4 502.5h0M774.4 502.5h0M775.4 510.3h0M776.4 514h0M777.4 506.2h0M778.4 505.3h0M779.4 510.8h0M779.4 511.3h0M780.4 504.3h0M781.4 503.9h0M782.4 510.3h0M783.4 508.5h0M784.4 511.7h0M785.4 506.7h0M786.4 510.8h0M787.4 509.9h0M788.4 506.2h0M789.4 509.9h0M790.4 502.1h0M791.4 500.2h0M791.4 504.8h0M792.4 511.7h0M793.4 509.9h0M794.4 497.5h0M795.4 502.1h0M796.4 506.2h0M797.4 502.5h0M798.4 503.9h0M799.4 497h0M800.4 504.3h0M801.4 505.3h0M802.4 505.3h0M803.4 508h0M803.4 503.4h0M804.4 505.7h0M805.4 505.7h0M806.4 502.5h0M807.4 501.6h0M808.4 500.2h0M809.4 503h0M810.4 507.1h0M811.4 494.2h0M812.4 496.5h0M813.4 495.6h0M814.4 491.9h0M815.4 492.9h0M815.4 499.7h0M816.4 499.3h0M817.4 505.3h0M818.4 502.5h0M819.4 503.4h0M821.4 495.1h0M822.4 503h0M823.4 500.2h0M824.4 501.1h0M825.4 496.1h0M826.4 496.5h0M826.4 505.7h0M827.4 493.8h0M828.4 492.4h0M829.4 496.1h0M830.4 498.4h0M831.4 503.4h0M832.4 493.3h0M833.4 492.4h0M834.4 492.9h0M835.4 501.6h0M836.4 484.6h0M837.4 498.4h0M838.4 490.5h0M838.4 502.1h0M839.4 485.9h0M840.4 501.6h0M841.4 503.4h0M842.4 495.1h0M843.4 496.1h0M844.4 496.5h0M844.6 491h0M846.4 501.6h0M847.4 497h0M848.4 495.6h0M849.4 491h0M850.4 493.8h0M850.4 501.1h0M851.8 493.8h0M852.4 503.4h0M853.4 504.8h0M854.4 512.6h0M855.4 507.6h0M856.4 496.1h0M857.4 501.6h0M858.4 498.4h0M859.4 501.6h0M861.4 501.1h0M862.4 496.5h0M862.4 503.9h0M863.4 491.9h0M864.4 503.4h0M865.4 487.3h0M866.4 501.1h0M867.4 492.9h0M868.4 502.1h0M869.4 497.5h0M870.4 493.8h0M871.4 498.8h0M872.4 501.6h0M873.4 500.7h0M874.4 488.3h0M874.4 501.6h0M875.4 497h0M876.4 494.2h0M877.4 486.9h0M878.4 497h0M879.4 499.3h0M880.4 494.2h0M881.4 485.9h0M882.4 490.5h0M885.4 481.8h0M886.4 493.3h0M887.4 482.3h0M888.4 484.1h0M889.4 481.8h0M890.4 488.3h0M891.4 497.5h0M892.4 491.5h0M893.4 492.9h0M894.4 483.2h0M895.4 487.3h0M896.4 486.9h0M897.4 491.5h0M898.4 493.3h0M898.4 503h0M899.4 495.1h0M900.4 492.4h0M901.4 499.7h0M902.4 489.6h0M903.4 499.7h0M904.4 506.2h0M905.4 490.1h0M906.4 497h0M907.4 491h0M909.4 496.5h0M910.4 489.6h0M910.4 492.4h0M912.4 490.5h0M913.4 492.4h0M914.4 494.7h0M915.4 503h0M916.4 500.7h0M917.4 517.2h0M918.4 504.8h0M919.4 498.8h0M920.4 505.3h0M922.4 504.3h0M922.4 506.7h0M923.4 501.1h0M924.4 504.8h0M925.4 508.9h0M926.4 508.9h0M927.4 512.6h0M928.4 506.2h0M929.4 514h0M930.4 505.7h0M931.4 513.5h0M932.4 508.5h0M933.4 508h0M934.4 507.6h0M934.4 508.9h0M935.4 515.4h0M936.4 510.8h0M937.4 508.5h0M938.4 505.7h0M939.4 507.6h0M940.4 514.5h0M941.4 504.3h0M942.4 500.7h0M943.4 514h0M944.4 514h0M945.4 505.3h0M946.4 506.2h0M946.4 510.8h0M947.4 511.7h0M948.4 516.3h0M949.4 517.2h0M950.4 518.5h0M953.4 511.7h0M954.4 508.5h0M957.4 517.2h0M958.4 516.8h0M960.4 514.5h0M962.4 517.7h0M963.4 514.9h0M964.6 518.1h0M965.4 519.5h0M966.4 511.2h0M967.4 503h0M968.4 506.6h0M969.4 503.9h0M969.4 511.7h0M970.4 510.3h0M971.4 499.8h0M972.4 502h0M973.4 506.6h0M974.4 503.9h0M975.4 510.8h0M976.4 506.6h0M977.4 515.8h0M978.4 512.2h0M979.4 512.6h0M980.4 503h0M981.4 504.8h0M981.4 505.7h0M982.4 511.2h0M983.4 506.2h0M984.4 501.1h0M985.4 501.6h0M986.4 503h0M987.4 499.8h0M988.4 494.2h0M989.4 503.9h0M990.4 506.2h0M991.4 499.8h0M992.4 509.4h0M993.4 504.4h0M994.4 489.2h0M995.4 491.9h0M996.4 503h0M997.4 497.4h0M998.4 496.5h0M999.4 507.6h0M1000.4 497.4h0M1001.4 500.7h0M1002.4 496.5h0M1003.4 501.6h0M1004.4 496.5h0M1005.4 492.8h0M1005.4 504.4h0M1006.4 499.8h0M1007.4 500.2h0M1008.4 492.8h0M1009.4 497.9h0M1010.4 505.7h0M1011.4 500.2h0M1012.4 490.6h0M1013.4 503h0M1014.4 503.4h0M1015.4 499.8h0M1016.4 494.2h0M1017.4 505.7h0M1017.4 511.2h0M1018.4 498.4h0M1019.4 499.3h0M1020.4 503h0M1021.4 503.4h0M1022.4 500.2h0M1023.4 497.4h0M1024.4 504.8h0M1025.4 510.8h0M1026.4 513.6h0M1027.4 514h0M1028.4 512.2h0M1029.4 516.3h0M1029.4 512.6h0M1030.4 511.6h0M1031.4 509.4h0M1032.4 515.8h0M1033.4 511.2h0M1034.4 509.9h0M1035.4 515.4h0M1036.4 509.4h0M1037.4 511.7h0M1038.4 511.7h0M1039.4 506.2h0M1040.4 509.4h0M1041.4 508.5h0M1041.4 499.8h0M1042.4 507.1h0M1043.4 503h0M1044.4 497.9h0M1045.4 505.3h0M1046.4 503h0M1047.4 516.8h0M1048.4 508h0M1049.4 506.6h0M1050.4 509.9h0M1051.4 502.5h0M1052.4 500.7h0M1053.4 493.8h0M1053.4 509h0M1054.4 509.4h0M1055.4 504.4h0M1056.4 505.7h0M1057.4 512.2h0M1058.4 509.9h0M1059.4 505.3h0M1060.4 511.7h0M1061.4 507.6h0M1062.4 515.4h0M1063.4 519.1h0M1064.4 514.5h0M1065.4 512.6h0M1065.4 515.8h0M1066.4 517.7h0M1067.4 516.8h0M1068.4 519.5h0M1069.4 509h0M1070.4 511.7h0M1071.4 521.8h0M1072.4 517.2h0M1073.4 517.7h0M1074.4 509.9h0M1075.4 511.7h0M1076.4 518.6h0M1077.4 518.6h0M1077.4 525.5h0M1078.4 511.6h0M1079.4 512.6h0M1080.4 525h0M1081.4 522.3h0M1082.4 515.4h0M1083.4 508h0M1084.2 524.6h0M1084.6 520.8h0M1085.4 524.6h0M1086.4 521.8h0M1087.4 521.4h0M1088.4 524.6h0M1089.4 519.5h0M1090.4 517.2h0M1091.4 515.8h0M1092.4 519h0M1093.4 519.5h0M1094.4 520h0M1095.4 517.2h0M1096.4 515.4h0M1097.4 514h0M1098.4 522.7h0M1099.4 521.4h0M1100.4 520h0M1101.4 514h0M1101.4 516.3h0M1102.4 520.4h0M1103.4 516.3h0M1104.4 511.3h0M1105.4 515.7h0M1106.4 514h0M1107.4 516.8h0M1108.4 518.6h0M1109.4 514h0M1110.4 520.9h0M1111.4 518.6h0M1112.4 514.5h0M1112.4 519h0M1114.4 510.8h0M1115.4 511.3h0M1114.4 518.6h0M1116.4 518.6h0M1117.4 526.4h0M1118.4 525.5h0M1119.4 519.5h0M1120.4 526h0M1121.4 523.6h0M1122.4 525h0M1123.4 524.1h0M1124.4 521.8h0M1125.4 524.6h0M1126.4 528.7h0M1127.4 526.9h0M1128.4 524.1h0M1129.4 529.6h0M1130.4 513.1h0M1131.4 525.5h0M1132.4 524.6h0M1133.4 517.2h0M1134.4 523.2h0M1135.4 530.5h0M1136.4 523.2h0M1136.4 518.1h0M1137.4 527.3h0M1138.4 512.2h0M1139.4 519h0M1140.4 521.4h0M1141.4 520h0M1142.4 525.5h0M1143.4 513.1h0M1144.4 516.3h0M1145.4 524.1h0M1146.4 524.1h0M1147.4 518.6h0M1148.4 510.3h0M1148.4 521.4h0M1149.4 509.4h0M1150.4 512.2h0M1152.4 511.7h0M1151.4 511.3h0M1153.4 519.5h0M1154.4 497.9h0M1155.4 503.9h0M1156.4 502.5h0M1157.4 503h0M1158.4 513.5h0M1159.4 506.2h0M1160.4 502.1h0M1160.4 509.9h0M1161.4 500.2h0M1162.4 503h0M1163.4 501.6h0M1164.4 500.7h0M1165.4 502.5h0M1166.4 505.3h0M1167.4 510.3h0M1168.4 501.1h0M1169.4 500.7h0M1170.4 498.8h0M1171.4 492.6h0M1172.4 498.8h0M1172.4 502.5h0M1173.4 503.4h0M1174.4 497h0M1175.4 492.6h0M1176.4 499.7h0M1177.4 500.7h0M1178.4 496.1h0M1179.4 501.6h0M1180.4 499.7h0M1181.4 499.7h0M1182.4 494.7h0M1183.4 501.6h0M1184.4 496.5h0M1185.4 496.1h0M1184.4 498.4h0M1186.4 498.4h0M1187.4 493.3h0M1188.4 500.2h0M1189.4 492.4h0M1190.4 498.8h0M1191.4 499.7h0M1192.4 500.2h0M1193.4 494.7h0M1195.4 494.7h0M1197.4 494.7h0M1196.4 497h0M1198.4 499.7h0M1199.4 497.9h0M1200.4 503.4h0M1201.4 504.8h0M1202.4 508.5h0M1203.4 493.3h0M1204.2 507.6h0M1204.6 500.7h0M1206.4 504.8h0M1205.4 507.6h0M1208.4 499.7h0M1208.4 506.2h0M1209.4 510.8h0M1210.4 505.7h0M1211.4 511.3h0M1212.4 509.4h0M1213.4 513.1h0M1214.4 501.6h0M1215.4 497h0M1216.4 496.5h0M1217.4 505.3h0M1218.4 505.7h0M1219.4 502.5h0M1220.4 492.4h0M1220.4 503.4h0M1221.4 497h0M1222.4 506.7h0M1223.4 504.8h0M1224.4 503.4h0M1225.4 501.1h0M1226.4 502.1h0M1227.4 510.3h0M1228.4 509.4h0M1229.4 510.8h0M1230.4 509.9h0M1232.4 515h0M1233.4 509.4h0M1235.4 509.9h0M1236.4 511.3h0M1237.4 513.1h0M1238.4 506.2h0M1239.4 507.6h0M1240.4 503h0M1241.4 504.8h0M1242.4 509.9h0M1243.4 501.6h0M1244.4 503h0M1245.4 508.5h0M1246.4 503.4h0M1247.4 504.3h0M1248.4 500.7h0M1249.4 505.3h0M1250.4 498.4h0M1251.4 504.8h0M1252.4 507.1h0M1253.4 501.1h0M1254.4 493.3h0M1255.4 508h0M1256.4 496.5h0M1257.4 491.9h0M1258.4 501.6h0M1259.4 503.9h0M1260.4 492.9h0M1261.4 501.1h0M1262.4 494.2h0M1265.4 491.9h0M1267.4 490.1h0M1267.4 494.7h0M1268.4 497.5h0M1275.4 497.5h0M1277.4 489.2h0M1278.4 493.8h0M1279.4 490.5h0M1295.4 507.1h0M1296.4 509.9h0M1297.4 503.4h0M1298.4 514.8h0M1300.4 504.8h0M1301.4 511.7h0M1302.4 498.4h0M1303.4 512.6h0M1269.4 477.2h0M1271.4 477.2h0M1270.4 479h0M1272.4 479.5h0M1266.4 480.9h0M1273.4 481.3h0M1276.4 480.4h0M1279.4 480.9h0M1283.4 479h0M1285.4 476.7h0M1287.4 477.2h0M1286.4 480.9h0M1291.4 480h0M1293.4 480.4h0M1294.4 479.5h0M1290.4 483.2h0M1291.4 484.1h0M1288.4 485h0M1289.4 485h0M1282.4 484.1h0M1263.4 485.5h0M1274.4 485.9h0M1281.4 486.4h0M1280.4 487.3h0M1264.4 488.2h0M1284.4 488.2h0M956.8 528.6h0M952.8 523.1h0M955.2 522h0M958.4 522.4h0M961.6 522.4h0M951.2 519.4h0M959.2 519.8h0M964 519.8h0M1196.6 489.7h0M1193.5 490.6h0M1189 491.7h0M1191.5 491.7h0M1231.4 519.5h0M1232.4 530.5h0" stroke="#000" stroke-width="3.7" stroke-linecap="round" fill="none"/>
<path d="M219.5 529.7h0M515.6 529.2h0M884.5 466.6h0M883.2 470.3h0M886.4 475h0M1292.4 475.4h0M1299.4 541.2h0" stroke="#ffa500" stroke-width="3.7" stroke-linecap="round" fill="none"/>
<rect x="162" y="541" width="505" height="15" fill="#ffa500" fill-opacity="0.13"/>
<rect x="667" y="493" width="636" height="23" fill="#ffa500" fill-opacity="0.13"/>
<rect x="105.5" y="499" width="1255.5" height="48.6" fill="#f00" fill-opacity="0.1"/>
<line x1="162" y1="548.5" x2="667" y2="548.5" stroke="#ffa500" stroke-width="2.78"/>
<line x1="667" y1="504.5" x2="1303" y2="504.5" stroke="#ffa500" stroke-width="2.78"/>
<line x1="162" y1="666" x2="162" y2="380.5" stroke="#800080" stroke-width="2.08" stroke-dasharray="2.08 3.44" stroke-dashoffset="0"/>
<line x1="667" y1="666" x2="667" y2="380.5" stroke="#800080" stroke-width="2.08" stroke-dasharray="2.08 3.44" stroke-dashoffset="0"/>
<line x1="1303" y1="666" x2="1303" y2="380.5" stroke="#800080" stroke-width="2.08" stroke-dasharray="2.08 3.44" stroke-dashoffset="0"/>
<line x1="105.5" y1="523" x2="1361" y2="523" stroke="#f00" stroke-width="2.08"/>
</g>
<text x="414.6" y="657" font-size="13.89" text-anchor="middle">45536</text>
<text x="984.8" y="637" font-size="13.89" text-anchor="middle">42483</text>
<rect x="105.5" y="380.5" width="1380.0" height="286.0" fill="none" stroke="#000" stroke-width="1.1"/>
<line x1="162.5" y1="666.5" x2="162.5" y2="671.7" stroke="#000" stroke-width="1.1"/>
<text x="163.2" y="686.7" font-size="13.89" text-anchor="middle">0</text>
<line x1="346.5" y1="666.5" x2="346.5" y2="671.7" stroke="#000" stroke-width="1.1"/>
<text x="346.3" y="686.7" font-size="13.89" text-anchor="middle">200</text>
<line x1="531.5" y1="666.5" x2="531.5" y2="671.7" stroke="#000" stroke-width="1.1"/>
<text x="531.2" y="686.7" font-size="13.89" text-anchor="middle">400</text>
<line x1="716.5" y1="666.5" x2="716.5" y2="671.7" stroke="#000" stroke-width="1.1"/>
<text x="715.3" y="686.7" font-size="13.89" text-anchor="middle">600</text>
<line x1="900.5" y1="666.5" x2="900.5" y2="671.7" stroke="#000" stroke-width="1.1"/>
<text x="900" y="686.7" font-size="13.89" text-anchor="middle">800</text>
<line x1="1085.5" y1="666.5" x2="1085.5" y2="671.7" stroke="#000" stroke-width="1.1"/>
<text x="1084.9" y="686.7" font-size="13.89" text-anchor="middle">1000</text>
<line x1="1269.5" y1="666.5" x2="1269.5" y2="671.7" stroke="#000" stroke-width="1.1"/>
<text x="1269.1" y="686.7" font-size="13.89" text-anchor="middle">1200</text>
<line x1="1454.5" y1="666.5" x2="1454.5" y2="671.7" stroke="#000" stroke-width="1.1"/>
<text x="1454.5" y="686.7" font-size="13.89" text-anchor="middle">1400</text>
<line x1="100.3" y1="417.5" x2="105.5" y2="417.5" stroke="#000" stroke-width="1.1"/>
<text x="95" y="422.3" font-size="13.89" text-anchor="end">9<tspan dx="-0.5">.</tspan><tspan dx="-0.5">5</tspan></text>
<line x1="100.3" y1="467.5" x2="105.5" y2="467.5" stroke="#000" stroke-width="1.1"/>
<text x="95" y="472.6" font-size="13.89" text-anchor="end">9<tspan dx="-0.5">.</tspan><tspan dx="-0.5">4</tspan></text>
<line x1="100.3" y1="517.5" x2="105.5" y2="517.5" stroke="#000" stroke-width="1.1"/>
<text x="95" y="522.9" font-size="13.89" text-anchor="end">9<tspan dx="-0.5">.</tspan><tspan dx="-0.5">3</tspan></text>
<line x1="100.3" y1="568.5" x2="105.5" y2="568.5" stroke="#000" stroke-width="1.1"/>
<text x="95" y="573.2" font-size="13.89" text-anchor="end">9<tspan dx="-0.5">.</tspan><tspan dx="-0.5">2</tspan></text>
<line x1="100.3" y1="618.5" x2="105.5" y2="618.5" stroke="#000" stroke-width="1.1"/>
<text x="95" y="623.5" font-size="13.89" text-anchor="end">9<tspan dx="-0.5">.</tspan><tspan dx="-0.5">1</tspan></text>
<text x="795" y="371.8" font-size="16.67" text-anchor="middle">Magnitude Estimates</text>
<rect x="1365.5" y="387.5" width="113.0" height="48.0" rx="2.8" fill="#fff" fill-opacity="0.8" stroke="#ccc" stroke-opacity="0.8" stroke-width="1.1"/>
<line x1="1369.1" y1="399.5" x2="1400" y2="399.5" stroke="#ffa500" stroke-width="2.78"/>
<line x1="1369.1" y1="422" x2="1399.2" y2="422" stroke="#f00" stroke-width="2.08"/>
<text x="1409.8" y="403.6" font-size="13.89">mag<tspan font-size="10" font-style="italic" dx="-0.7" dy="2.0">OBSID</tspan></text>
<text x="1409" y="426.2" font-size="13.89" text-anchor="start">mag</text>
<rect x="1348.5" y="613.5" width="130.0" height="46.0" rx="2.8" fill="#fff" fill-opacity="0.8" stroke="#ccc" stroke-opacity="0.8" stroke-width="1.1"/>
<path d="M1367.5 626.5h0" stroke="#ffa500" stroke-width="3.6" stroke-linecap="round" fill="none"/>
<path d="M1367.5 647.5h0" stroke="#000" stroke-width="3.6" stroke-linecap="round" fill="none"/>
<text x="1392.5" y="629.9" font-size="13.89" text-anchor="start">Highlighted</text>
<text x="1392.5" y="650.7" font-size="13.89" text-anchor="start">OK</text>
<g clip-path="url(#c3a)">
<line x1="162.9" y1="763.5" x2="218.3" y2="763.5" stroke="#000" stroke-width="3.0" stroke-linecap="round"/>
<line x1="667.6" y1="763.5" x2="730.4" y2="763.5" stroke="#000" stroke-width="3.0" stroke-linecap="round"/>
<line x1="216.7" y1="840.4" x2="221.5" y2="840.4" stroke="#000" stroke-width="3.0" stroke-linecap="round"/>
<line x1="219.9" y1="878.5" x2="221.1" y2="878.5" stroke="#000" stroke-width="3.0" stroke-linecap="round"/>
<line x1="470.4" y1="840.4" x2="471.6" y2="840.4" stroke="#000" stroke-width="3.0" stroke-linecap="round"/>
<line x1="484.6" y1="840.4" x2="485.4" y2="840.4" stroke="#000" stroke-width="3.0" stroke-linecap="round"/>
<path d="M600.4 840.4h0M654.5 840.4h0" stroke="#000" stroke-width="2.7" stroke-linecap="round" fill="none"/>
<line x1="470.4" y1="878.5" x2="471.6" y2="878.5" stroke="#000" stroke-width="3.0" stroke-linecap="round"/>
<line x1="484.6" y1="878.5" x2="485.4" y2="878.5" stroke="#000" stroke-width="3.0" stroke-linecap="round"/>
<path d="M600.4 878.5h0M654.5 878.5h0" stroke="#000" stroke-width="2.7" stroke-linecap="round" fill="none"/>
<line x1="105.5" y1="763.5" x2="1485.5" y2="763.5" stroke="#b0b0b0" stroke-width="1.1" stroke-dasharray="1.1 1.87"/>
<line x1="105.5" y1="802.5" x2="1485.5" y2="802.5" stroke="#b0b0b0" stroke-width="1.1" stroke-dasharray="1.1 1.87"/>
<line x1="105.5" y1="840.5" x2="1485.5" y2="840.5" stroke="#b0b0b0" stroke-width="1.1" stroke-dasharray="1.1 1.87"/>
<line x1="105.5" y1="878.5" x2="1485.5" y2="878.5" stroke="#b0b0b0" stroke-width="1.1" stroke-dasharray="1.1 1.87"/>
<line x1="105.5" y1="916.5" x2="1485.5" y2="916.5" stroke="#b0b0b0" stroke-width="1.1" stroke-dasharray="1.1 1.87"/>
<line x1="162" y1="954" x2="162" y2="725.5" stroke="#800080" stroke-width="2.08" stroke-dasharray="2.08 3.44" stroke-dashoffset="0"/>
<line x1="667" y1="954" x2="667" y2="725.5" stroke="#800080" stroke-width="2.08" stroke-dasharray="2.08 3.44" stroke-dashoffset="0"/>
<line x1="1303" y1="954" x2="1303" y2="725.5" stroke="#800080" stroke-width="2.08" stroke-dasharray="2.08 3.44" stroke-dashoffset="0"/>
</g>
<g clip-path="url(#c3b)">
<line x1="163.3" y1="957.5" x2="220.6" y2="957.5" stroke="#f00" stroke-width="4.6" stroke-linecap="round"/>
<line x1="668.6" y1="957.5" x2="729.8" y2="957.5" stroke="#f00" stroke-width="4.6" stroke-linecap="round"/>
<path d="M470.9 957.5h0M484.9 957.5h0" stroke="#f00" stroke-width="4.6" stroke-linecap="round" fill="none"/>
<path d="M600.4 957.7h0M654.5 957.7h0" stroke="#f00" stroke-width="3.6" stroke-linecap="round" fill="none"/>
<polyline points="219.5,999.5 219.6,999.5" fill="none" stroke="#000" stroke-width="3" stroke-linecap="round" stroke-linejoin="round"/>
<polyline points="222,1002.5 225,1004 228.5,1006.5" fill="none" stroke="#000" stroke-width="3" stroke-linecap="round" stroke-linejoin="round"/>
<polyline points="230,999.5 232.5,1002.5 235.5,1004 242,1004 246,1006.5 250.5,1007.5 252.5,1004.5 254.5,1001.5 259,1001 260.5,1000.2" fill="none" stroke="#000" stroke-width="3" stroke-linecap="round" stroke-linejoin="round"/>
<polyline points="261.5,1007.5 265,1004 268,1002 271.5,1000.5 274,1002 278,1003 283,1002 287,1000.7 291,1000.5 294,1001.5 296,1002.5 301,1002.5 302.5,1005 308,1005.5 313,1002.5 317,1001.5 320,1002.5 323,1001.5 326,1002.5 330,1001 335,1000.5 339.5,1000.2 342,1003 346,1005 350,1006 353,1004 358,1003.5 360,1003 363,1005.5 365,1006 369,1003.5 373.5,1001.5 376.5,999" fill="none" stroke="#000" stroke-width="3" stroke-linecap="round" stroke-linejoin="round"/>
<polyline points="292.3,1005.5 292.4,1005.5" fill="none" stroke="#000" stroke-width="3" stroke-linecap="round" stroke-linejoin="round"/>
<polyline points="358.5,999.5 358.6,999.5" fill="none" stroke="#000" stroke-width="3" stroke-linecap="round" stroke-linejoin="round"/>
<polyline points="377.5,1002.5 380,1003 385,1000.5 391,1000.5 397,999.5 402,998 406,998.2 410,999.8" fill="none" stroke="#000" stroke-width="3" stroke-linecap="round" stroke-linejoin="round"/>
<polyline points="410.5,1007.2 413.5,1005 416.5,1004.2 418,1006" fill="none" stroke="#000" stroke-width="3" stroke-linecap="round" stroke-linejoin="round"/>
<polyline points="418,998.2 421,1000 425,1000.5 430,999 433,997.5 434.5,996" fill="none" stroke="#000" stroke-width="3" stroke-linecap="round" stroke-linejoin="round"/>
<polyline points="435.5,1002.5 440,1003.5 445,1004.5 448,1003 451,1000.5 455,999.2 461,999 467,998.5 469.5,998.5" fill="none" stroke="#000" stroke-width="3" stroke-linecap="round" stroke-linejoin="round"/>
<polyline points="472.5,999.5 476,1000.2 480,1000.5 483.5,1001.5" fill="none" stroke="#000" stroke-width="3" stroke-linecap="round" stroke-linejoin="round"/>
<polyline points="486.5,1006.5 490,1005 493.5,1001.5 498,1001 501,1001.5 505,999 510,997.5 515,995.8 517.7,996" fill="none" stroke="#000" stroke-width="3" stroke-linecap="round" stroke-linejoin="round"/>
<polyline points="513.5,1004 515.5,1005.5 518.2,1006.9 523.5,1006.9 528.9,1006.3 533.1,1004.7 539.5,1003.3 545.9,1002.9 550.7,1003.7" fill="none" stroke="#000" stroke-width="3" stroke-linecap="round" stroke-linejoin="round"/>
<polyline points="551.3,997.3 555.5,998.9 560.9,1001.5 566.2,1003.7 571.5,1004.2 575.3,1003.1 576.9,1005.8 580.1,1007.9 581.7,1007.4" fill="none" stroke="#000" stroke-width="3" stroke-linecap="round" stroke-linejoin="round"/>
<polyline points="582.2,1001 585.4,1003.1 588.6,1004.2 591.8,1003.1 593.9,1005.8 596.1,1008.5 599.3,1005.8 602.5,1004.2 605.7,1003.7 608.9,1001 613.1,998 621.7,997.8 632.3,997.8 637.7,998.9 641.9,999.9 644.6,1001" fill="none" stroke="#000" stroke-width="3" stroke-linecap="round" stroke-linejoin="round"/>
<polyline points="643.5,1003.7 646.2,1001" fill="none" stroke="#000" stroke-width="3" stroke-linecap="round" stroke-linejoin="round"/>
<polyline points="647.3,1004.2 650.5,1005.3 653.7,1005.1" fill="none" stroke="#000" stroke-width="3" stroke-linecap="round" stroke-linejoin="round"/>
<polyline points="656.9,1004.4 657,1004.4" fill="none" stroke="#000" stroke-width="3" stroke-linecap="round" stroke-linejoin="round"/>
<polyline points="655.3,997 659,998.9 662.7,1001.5 664.3,1002.1 666.5,1000.8" fill="none" stroke="#000" stroke-width="3" stroke-linecap="round" stroke-linejoin="round"/>
<polyline points="731.4,994.6 733.5,998.3 738.9,997.8 744.2,996.2 752.7,995.7 760.2,995.1 767.7,994.1" fill="none" stroke="#000" stroke-width="3" stroke-linecap="round" stroke-linejoin="round"/>
<polyline points="773.5,1002.1 778.3,1004.2 783.7,1006.1 790.1,1007.4 794.3,1006.3 799.1,1004.7" fill="none" stroke="#000" stroke-width="3" stroke-linecap="round" stroke-linejoin="round"/>
<polyline points="800.2,999.4 803.9,1000.1 810.3,998.9 816.2,998.3" fill="none" stroke="#000" stroke-width="3" stroke-linecap="round" stroke-linejoin="round"/>
<polyline points="817.3,1007.6 821,1006.9 826.3,1004.2 831.7,1002.1 834.3,1001" fill="none" stroke="#000" stroke-width="3" stroke-linecap="round" stroke-linejoin="round"/>
<polyline points="836.5,994.4 836.6,994.4" fill="none" stroke="#000" stroke-width="3" stroke-linecap="round" stroke-linejoin="round"/>
<polyline points="838.6,998 842.3,999.4 847.7,1002.1 851.4,1003.7" fill="none" stroke="#000" stroke-width="3" stroke-linecap="round" stroke-linejoin="round"/>
<polyline points="852.5,998.9 857.3,999.9 862.6,1002.9 866.3,1004.4" fill="none" stroke="#000" stroke-width="3" stroke-linecap="round" stroke-linejoin="round"/>
<polyline points="867.4,994.1 871.1,997.3 875.4,1000.8 877.1,1001.5" fill="none" stroke="#000" stroke-width="3" stroke-linecap="round" stroke-linejoin="round"/>
<polyline points="877.7,998.3 881.9,998.9" fill="none" stroke="#000" stroke-width="3" stroke-linecap="round" stroke-linejoin="round"/>
<polyline points="883.5,995.1 887.8,997.8 892.1,1001 897.4,1003.7 900.6,1004.7 904.3,1003.1 908.1,1005.3 911.8,1007.6 914.5,1006.9" fill="none" stroke="#000" stroke-width="3" stroke-linecap="round" stroke-linejoin="round"/>
<polyline points="915.5,1002.6 919.8,1004.7 925.1,1006.9 929.9,1007.9 934.7,1006.3 939,1003.1 942.2,1001.9" fill="none" stroke="#000" stroke-width="3" stroke-linecap="round" stroke-linejoin="round"/>
<polyline points="943.8,998 948.6,1000.5 953.9,1003.1 959.3,1004.2 964.6,1002.9 967.8,1000.5 970.5,999.1" fill="none" stroke="#000" stroke-width="3" stroke-linecap="round" stroke-linejoin="round"/>
<polyline points="971,1007.6 976.3,1004.7 981.7,1001.5 986.5,998.3" fill="none" stroke="#000" stroke-width="3" stroke-linecap="round" stroke-linejoin="round"/>
<polyline points="987,1002.1 990.2,999.9 992.3,998.3" fill="none" stroke="#000" stroke-width="3" stroke-linecap="round" stroke-linejoin="round"/>
<polyline points="992.9,1001.5 997.7,998.3 1003,995.1" fill="none" stroke="#000" stroke-width="3" stroke-linecap="round" stroke-linejoin="round"/>
<polyline points="1009.4,994.6 1009.5,994.6" fill="none" stroke="#000" stroke-width="3" stroke-linecap="round" stroke-linejoin="round"/>
<polyline points="1011.5,1002.3 1014.7,1000.5 1019,996.7 1024.3,994.4" fill="none" stroke="#000" stroke-width="3" stroke-linecap="round" stroke-linejoin="round"/>
<polyline points="1025.4,998.7 1028.6,997.6 1030.7,995.5 1034.1,993.3" fill="none" stroke="#000" stroke-width="3" stroke-linecap="round" stroke-linejoin="round"/>
<polyline points="1041.5,996.2 1041.6,996.2" fill="none" stroke="#000" stroke-width="3" stroke-linecap="round" stroke-linejoin="round"/>
<polyline points="1042.6,1004.2 1046.3,1006.1 1052.2,1007.9 1057,1005.8 1061.8,1004.2" fill="none" stroke="#000" stroke-width="3" stroke-linecap="round" stroke-linejoin="round"/>
<polyline points="1062.3,995.9 1067.7,998.9 1075.1,1001 1082.6,1001.9 1089,1002.1 1095.4,1003.7 1103.9,1003.3 1110.3,1002.1 1115.7,1001.2" fill="none" stroke="#000" stroke-width="3" stroke-linecap="round" stroke-linejoin="round"/>
<polyline points="1116.2,996.2 1121,995.5 1126.3,994.1 1131.1,993.7" fill="none" stroke="#000" stroke-width="3" stroke-linecap="round" stroke-linejoin="round"/>
<polyline points="1133.3,1001 1138.1,1004 1143.4,1005.8 1148.2,1007.2 1152.5,1004.4" fill="none" stroke="#000" stroke-width="3" stroke-linecap="round" stroke-linejoin="round"/>
<polyline points="1153.3,994.4 1153.4,994.4" fill="none" stroke="#000" stroke-width="3" stroke-linecap="round" stroke-linejoin="round"/>
<polyline points="1159.9,994.1 1163.7,997.8 1169.5,1002.1" fill="none" stroke="#000" stroke-width="3" stroke-linecap="round" stroke-linejoin="round"/>
<polyline points="1170.1,995.9 1173.8,999.4 1177.7,1002.1" fill="none" stroke="#000" stroke-width="3" stroke-linecap="round" stroke-linejoin="round"/>
<polyline points="1178.2,998.3 1181.4,999.9 1184.6,1001.5" fill="none" stroke="#000" stroke-width="3" stroke-linecap="round" stroke-linejoin="round"/>
<polyline points="1185.1,996.9 1188.9,999.4 1193.1,1003.7 1198.5,1006.3 1203.3,1008.3" fill="none" stroke="#000" stroke-width="3" stroke-linecap="round" stroke-linejoin="round"/>
<polyline points="1203.3,1001 1208.1,1002.6 1212.3,1004.2 1217.7,1002.6 1220.3,1001 1221.9,1004" fill="none" stroke="#000" stroke-width="3" stroke-linecap="round" stroke-linejoin="round"/>
<polyline points="1223.5,1001 1227.3,1004.2 1232.6,1006.9 1235.8,1006.9 1240.1,1005.3 1243.3,1004.2 1244.5,1002.1" fill="none" stroke="#000" stroke-width="3" stroke-linecap="round" stroke-linejoin="round"/>
<polyline points="1245.4,1005.8 1249.7,1005.3 1256.1,1004.7 1262.5,1004 1268.9,1003.1 1275.3,1002.1 1281.7,1001.2 1285.9,1000.8 1289.7,999.4 1291.8,1001 1295,1000.5" fill="none" stroke="#000" stroke-width="3" stroke-linecap="round" stroke-linejoin="round"/>
<polyline points="1295,1005.3 1298.7,1005.1 1303,1004.2" fill="none" stroke="#000" stroke-width="3" stroke-linecap="round" stroke-linejoin="round"/>
<polyline points="768.7,993.5 772.5,992.3" fill="none" stroke="#f00" stroke-width="3" stroke-linecap="round" stroke-linejoin="round"/>
<polyline points="1004.6,993 1008.3,990.1" fill="none" stroke="#f00" stroke-width="3" stroke-linecap="round" stroke-linejoin="round"/>
<polyline points="1010.7,992.3 1010.8,992.3" fill="none" stroke="#f00" stroke-width="3" stroke-linecap="round" stroke-linejoin="round"/>
<polyline points="1035.1,992.7 1041.5,989.3" fill="none" stroke="#f00" stroke-width="3" stroke-linecap="round" stroke-linejoin="round"/>
<polyline points="1132.5,993.3 1132.6,993.3" fill="none" stroke="#f00" stroke-width="3" stroke-linecap="round" stroke-linejoin="round"/>
<polyline points="1154.3,990.1 1158.9,993.3" fill="none" stroke="#f00" stroke-width="3" stroke-linecap="round" stroke-linejoin="round"/>
<line x1="105.5" y1="957.5" x2="1485.5" y2="957.5" stroke="#b0b0b0" stroke-width="1.1" stroke-dasharray="1.1 1.87"/>
<line x1="105.5" y1="983.5" x2="1485.5" y2="983.5" stroke="#b0b0b0" stroke-width="1.1" stroke-dasharray="1.1 1.87"/>
<line x1="105.5" y1="1009.5" x2="1485.5" y2="1009.5" stroke="#b0b0b0" stroke-width="1.1" stroke-dasharray="1.1 1.87"/>
<line x1="162" y1="1011" x2="162" y2="954.5" stroke="#800080" stroke-width="2.08" stroke-dasharray="2.08 3.44" stroke-dashoffset="0"/>
<line x1="667" y1="1011" x2="667" y2="954.5" stroke="#800080" stroke-width="2.08" stroke-dasharray="2.08 3.44" stroke-dashoffset="0"/>
<line x1="1303" y1="1011" x2="1303" y2="954.5" stroke="#800080" stroke-width="2.08" stroke-dasharray="2.08 3.44" stroke-dashoffset="0"/>
</g>
<line x1="105.5" y1="954.5" x2="1485.5" y2="954.5" stroke="#000" stroke-width="1.1"/>
<rect x="105.5" y="725.5" width="1380.0" height="286.0" fill="none" stroke="#000" stroke-width="1.1"/>
<line x1="162.5" y1="1011.5" x2="162.5" y2="1016.7" stroke="#000" stroke-width="1.1"/>
<text x="163.2" y="1031.7" font-size="13.89" text-anchor="middle">0</text>
<line x1="346.5" y1="1011.5" x2="346.5" y2="1016.7" stroke="#000" stroke-width="1.1"/>
<text x="346.3" y="1031.7" font-size="13.89" text-anchor="middle">200</text>
<line x1="531.5" y1="1011.5" x2="531.5" y2="1016.7" stroke="#000" stroke-width="1.1"/>
<text x="531.2" y="1031.7" font-size="13.89" text-anchor="middle">400</text>
<line x1="716.5" y1="1011.5" x2="716.5" y2="1016.7" stroke="#000" stroke-width="1.1"/>
<text x="715.3" y="1031.7" font-size="13.89" text-anchor="middle">600</text>
<line x1="900.5" y1="1011.5" x2="900.5" y2="1016.7" stroke="#000" stroke-width="1.1"/>
<text x="900" y="1031.7" font-size="13.89" text-anchor="middle">800</text>
<line x1="1085.5" y1="1011.5" x2="1085.5" y2="1016.7" stroke="#000" stroke-width="1.1"/>
<text x="1084.9" y="1031.7" font-size="13.89" text-anchor="middle">1000</text>
<line x1="1269.5" y1="1011.5" x2="1269.5" y2="1016.7" stroke="#000" stroke-width="1.1"/>
<text x="1269.1" y="1031.7" font-size="13.89" text-anchor="middle">1200</text>
<line x1="1454.5" y1="1011.5" x2="1454.5" y2="1016.7" stroke="#000" stroke-width="1.1"/>
<text x="1454.5" y="1031.7" font-size="13.89" text-anchor="middle">1400</text>
<line x1="100.3" y1="763.5" x2="105.5" y2="763.5" stroke="#000" stroke-width="1.1"/>
<text x="95" y="769" font-size="13.89" text-anchor="end">not Kalman</text>
<line x1="100.3" y1="802.5" x2="105.5" y2="802.5" stroke="#000" stroke-width="1.1"/>
<text x="95" y="807" font-size="13.89" text-anchor="end">not track</text>
<line x1="100.3" y1="840.5" x2="105.5" y2="840.5" stroke="#000" stroke-width="1.1"/>
<text x="95" y="845" font-size="13.89" text-anchor="end">Ion. rad.</text>
<line x1="100.3" y1="878.5" x2="105.5" y2="878.5" stroke="#000" stroke-width="1.1"/>
<text x="95" y="882.9" font-size="13.89" text-anchor="end">dr &gt; 5</text>
<line x1="100.3" y1="916.5" x2="105.5" y2="916.5" stroke="#000" stroke-width="1.1"/>
<text x="95" y="920.9" font-size="13.89" text-anchor="end">OBS not OK</text>
<line x1="100.3" y1="957.5" x2="105.5" y2="957.5" stroke="#000" stroke-width="1.1"/>
<text x="95" y="962.8" font-size="13.89" text-anchor="end">10</text>
<line x1="100.3" y1="983.5" x2="105.5" y2="983.5" stroke="#000" stroke-width="1.1"/>
<text x="95" y="988.8" font-size="13.89" text-anchor="end">5</text>
<line x1="100.3" y1="1009.5" x2="105.5" y2="1009.5" stroke="#000" stroke-width="1.1"/>
<text x="95" y="1014.8" font-size="13.89" text-anchor="end">0</text>
<line x1="102.72" y1="970.5" x2="105.5" y2="970.5" stroke="#000" stroke-width="0.83"/>
<line x1="102.72" y1="996.5" x2="105.5" y2="996.5" stroke="#000" stroke-width="0.83"/>
<text transform="translate(68.5 983.3) rotate(-90)" font-size="13.89" text-anchor="middle">dr</text>
</svg></body></html>
